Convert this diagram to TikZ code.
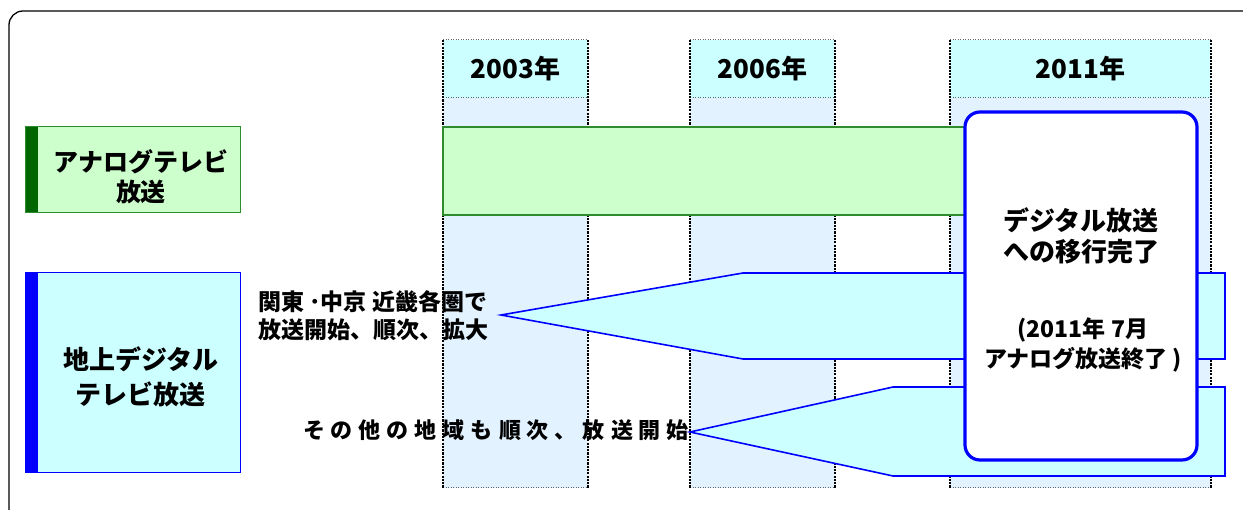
\documentclass[tikz,border=0pt]{standalone}
\usepackage{fontspec}
\setmainfont{Noto Sans CJK JP}
\definecolor{headcyan}{HTML}{CCFFFF}
\definecolor{colbody}{HTML}{E3F2FF}
\definecolor{anafill}{HTML}{CCFFCC}
\definecolor{anadraw}{HTML}{2E8B2E}
\definecolor{anastrip}{HTML}{006600}
\definecolor{digfill}{HTML}{CCFFFF}
\definecolor{digblue}{HTML}{0000FF}
\begin{document}
\begin{tikzpicture}[x=1pt,y=-1pt,font=\bfseries,
  every node/.style={inner sep=0pt,outer sep=0pt},
  yearhead/.style={fill=headcyan,anchor=north west,font=\bfseries\fontsize{26}{30}\selectfont},
  colbox/.style={fill=colbody,anchor=north west},
  vdots/.style={draw=black,line width=2.2pt,dash pattern=on 2.2pt off 1.1pt},
  hdots/.style={draw=black!60,line width=1pt,dash pattern=on 1pt off 1.5pt},
  anabar/.style={fill=anafill,draw=anadraw,line width=1.2pt,anchor=north west},
  digbar/.style={fill=digfill,draw=digblue,line width=1.6pt,line join=miter},
  labbox/.style={anchor=north west,line width=1pt},
  finalbox/.style={fill=white,draw=digblue,line width=3.2pt,rounded corners=15pt,anchor=north west}
]
\useasboundingbox (0,0) rectangle (1243,510);
% outer frame
\draw[line width=1.3pt,rounded corners=14pt] (9,540) -- (9,11) -- (1280,11);

% columns
\foreach \L/\R/\Y/\n in {443/588/2003/1,690/835/2006/2,950/1211/2011/3}{
  \pgfmathsetmacro{\W}{\R-\L}
  \node[colbox,minimum width=\W pt,minimum height=390pt] (b\n) at (\L,98) {};
  \node[yearhead,minimum width=\W pt,minimum height=58pt] (h\n) at (\L,40) {\Y 年};
  \draw[hdots] (\L,40) -- (\R,40);
  \draw[hdots] (\L,98) -- (\R,98);
  \draw[hdots] (\L,488) -- (\R,488);
  \draw[vdots] (\L,40) -- (\L,488);
  \draw[vdots] (\R,40) -- (\R,488);
}

% analog bar
\node[anabar,minimum width=530pt,minimum height=88pt] (abar) at (443,127) {};

% analog label
\node[labbox,fill=anafill,draw=anadraw,minimum width=215pt,minimum height=86pt] (alab) at (25,127) {};
\fill[anastrip] (25.5,127.5) rectangle (38,212.5);
\node[align=center,font=\bfseries\fontsize{25}{30}\selectfont] (alabt) at (141,177) {アナログテレビ\\放送};

% digital label
\node[labbox,fill=digfill,draw=digblue,minimum width=215pt,minimum height=200pt] (dlab) at (25,273) {};
\fill[digblue] (25.5,273.5) rectangle (38,472.5);
\node[align=center,font=\bfseries\fontsize{26}{35}\selectfont] (dlabt) at (141,377) {地上デジタル\\テレビ放送};

% digital arrows
\draw[digbar] (501,315) -- (743,273) -- (1225,273) -- (1225,359) -- (743,359) -- cycle;
\draw[digbar] (690,432) -- (893,387) -- (1225,387) -- (1225,476) -- (893,476) -- cycle;

% final box
\node[finalbox,minimum width=232pt,minimum height=348pt] (fin) at (965,112) {};
\node[align=center,font=\bfseries\fontsize{26}{31}\selectfont] (fint1) at (1081,236) {デジタル放送\\への移行完了};
\node[align=center,font=\bfseries\fontsize{23}{30}\selectfont] (fint2) at (1083,345) {(2011年 7月\\アナログ放送終了 )};

% annotations
\node[align=left,anchor=west,font=\bfseries\fontsize{23}{28}\selectfont] (t1) at (258,316) {関東 ･中京 近畿各圏で\\放送開始、順次、拡大};
\node[anchor=east,font=\bfseries\fontsize{22}{26}\selectfont] (t2) at (689,430) {そ\hspace{6pt}の\hspace{6pt}他\hspace{6pt}の\hspace{6pt}地\hspace{6pt}域\hspace{6pt}も\hspace{6pt}順\hspace{6pt}次\hspace{6pt}、\hspace{6pt}放\hspace{6pt}送\hspace{6pt}開\hspace{6pt}始};
\end{tikzpicture}
\end{document}
